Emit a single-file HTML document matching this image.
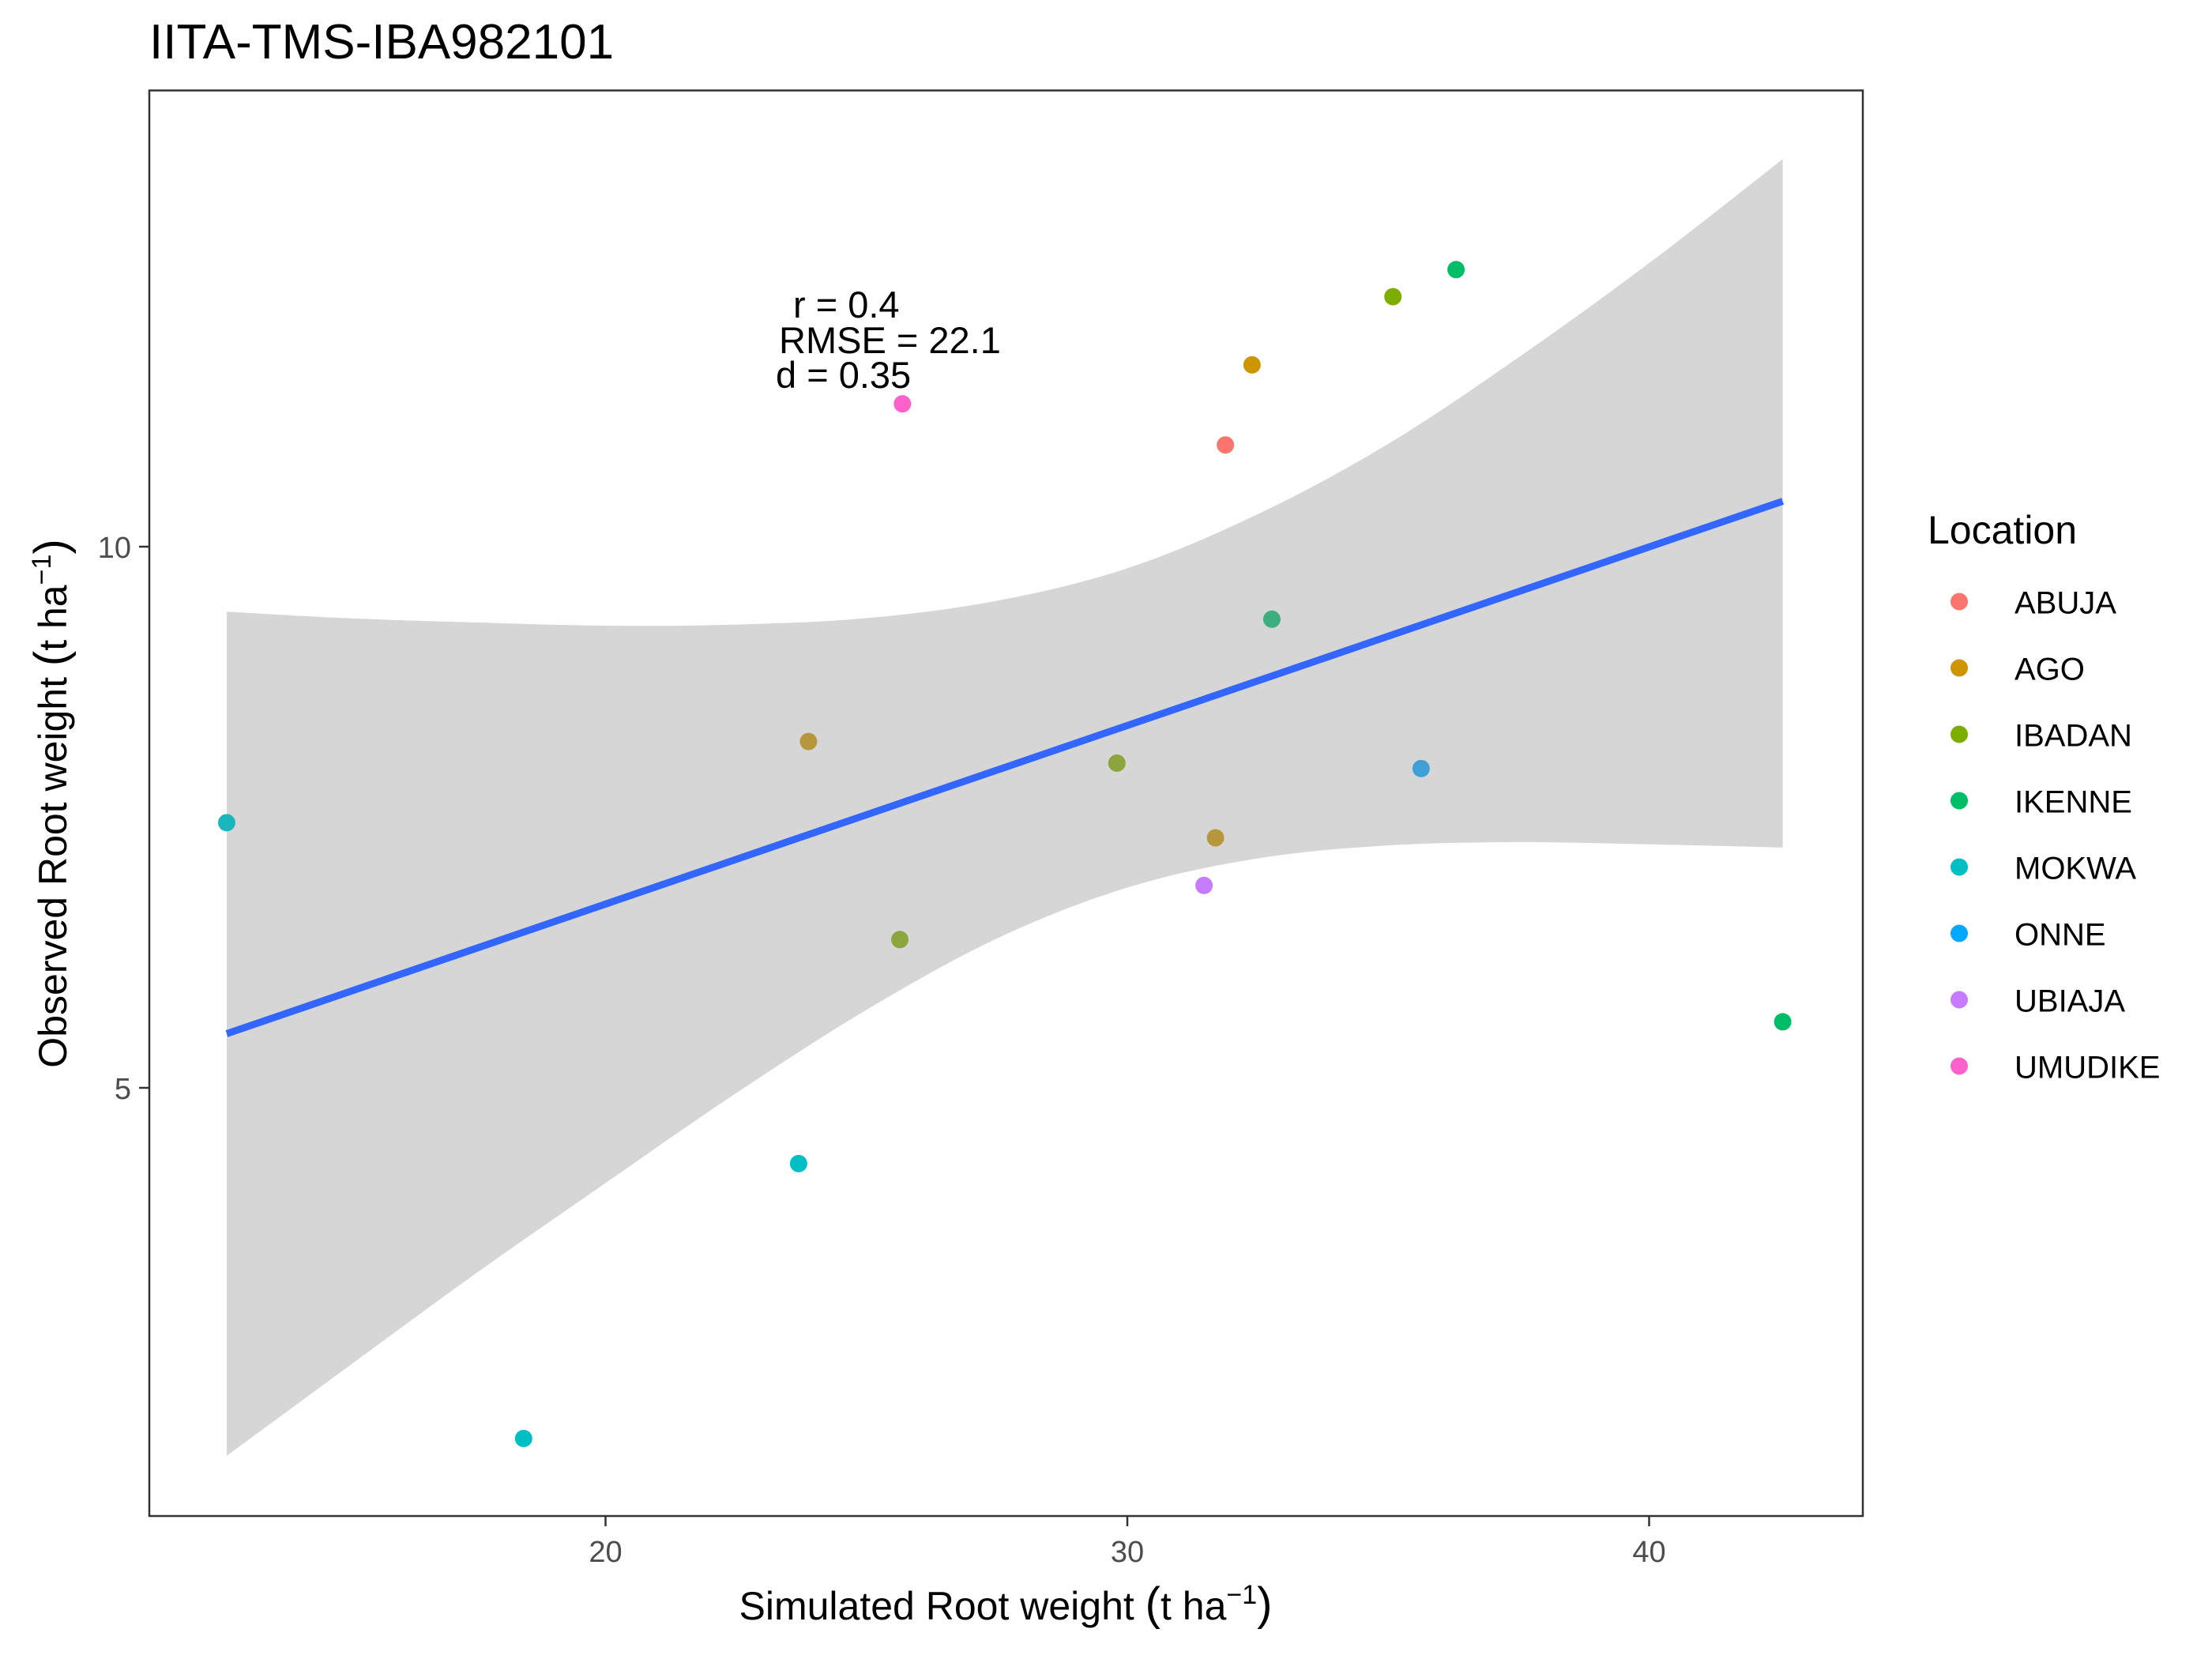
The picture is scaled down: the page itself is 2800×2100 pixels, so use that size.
<!DOCTYPE html>
<html><head><meta charset="utf-8"><title>IITA-TMS-IBA982101</title>
<style>html,body{margin:0;padding:0;background:#fff}svg{display:block;font-family:"Liberation Sans",Arial,sans-serif}</style>
</head><body>
<svg id="chart" width="2800" height="2100" viewBox="0 0 2800 2100">
  <rect x="0" y="0" width="2800" height="2100" fill="#fff"/>
  <text x="189" y="74" font-size="62" fill="#000">IITA-TMS-IBA982101</text>
  <g id="ribbonG"></g>
  <g id="lineG"></g>
  <g id="pointsG"></g>
  <g id="annot" font-size="47" fill="#000">
    <text x="1004" y="402">r = 0.4</text>
    <text x="986" y="447">RMSE = 22.1</text>
    <text x="982" y="491">d = 0.35</text>
  </g>
  <rect x="189" y="114.5" width="2169" height="1804.5" fill="none" stroke="#333" stroke-width="2.5"/>
  <g id="xAxis"></g>
  <g id="yAxis"></g>
  <text x="1273" y="2050" font-size="50" text-anchor="middle" fill="#000">Simulated Root weight <tspan font-size="58">(</tspan>t ha<tspan dy="-20" font-size="34">−1</tspan><tspan dy="20" font-size="58">)</tspan></text>
  <text transform="translate(84,1017) rotate(-90)" font-size="50" text-anchor="middle" fill="#000">Observed Root weight <tspan font-size="58">(</tspan>t ha<tspan dy="-20" font-size="34">−1</tspan><tspan dy="20" font-size="58">)</tspan></text>
  <g id="legend">
    <text x="2440" y="688" font-size="50" fill="#000">Location</text>
  </g>
</svg>
<script>
const xVals = [12.74, 25.69, 23.89, 29.80, 25.64, 23.70, 18.43, 31.88, 32.39, 35.09, 36.30, 32.77, 35.63, 31.69, 31.47, 42.56];
const yVals = [7.45, 11.32, 8.20, 8.00, 6.37, 4.30, 1.76, 10.94, 11.68, 12.31, 12.56, 9.33, 7.95, 7.31, 6.87, 5.61];
const pointColors = ["#1ab6bd","#ff61cc","#b8963c","#8aa63c","#8aa63c","#00bfc4","#00bfc4","#f8766d","#cd9600","#7cae00","#00be67","#3dae7e","#3fa0d8","#b8963c","#c77cff","#00be67"];
const bandX = [12.74, 15, 17.5, 20, 22.5, 25, 27.5, 30, 32.5, 35, 37.5, 40, 42.56];
const bandUpper = [9.40, 9.34, 9.30, 9.27, 9.28, 9.34, 9.50, 9.80, 10.30, 10.95, 11.75, 12.62, 13.58];
const bandLower = [1.60, 2.40, 3.28, 4.12, 4.95, 5.72, 6.38, 6.85, 7.12, 7.24, 7.27, 7.25, 7.22];
const fitX = [12.74, 42.56];
const fitY = [5.50, 10.42];
const xTicks = [20, 30, 40];
const yTicks = [5, 10];
const legendLabels = ["ABUJA","AGO","IBADAN","IKENNE","MOKWA","ONNE","UBIAJA","UMUDIKE"];
const legendColors = ["#f8766d","#cd9600","#7cae00","#00be67","#00bfc4","#00a9ff","#c77cff","#ff61cc"];

const NS = "http://www.w3.org/2000/svg";
function sx(v){ return 766.5 + (v - 20) * 66.05; }
function sy(v){ return 692 - (v - 10) * 137; }
function mk(tag, attrs, parent){ const e = document.createElementNS(NS, tag); for (const k in attrs) e.setAttribute(k, attrs[k]); parent.appendChild(e); return e; }
function smooth(pts){
  let s = "";
  for (let i = 0; i < pts.length - 1; i++){
    const p0 = pts[Math.max(i-1,0)], p1 = pts[i], p2 = pts[i+1], p3 = pts[Math.min(i+2,pts.length-1)];
    const c1 = [p1[0] + (p2[0]-p0[0])/6, p1[1] + (p2[1]-p0[1])/6];
    const c2 = [p2[0] - (p3[0]-p1[0])/6, p2[1] - (p3[1]-p1[1])/6];
    s += "C" + c1[0] + "," + c1[1] + " " + c2[0] + "," + c2[1] + " " + p2[0] + "," + p2[1];
  }
  return s;
}

// ribbon
const up = bandX.map((x,i)=>[sx(x), sy(bandUpper[i])]);
const lo = bandX.map((x,i)=>[sx(x), sy(bandLower[i])]).reverse();
let d = "M" + up[0][0] + "," + up[0][1] + smooth(up) + "L" + lo[0][0] + "," + lo[0][1] + smooth(lo) + "Z";
const rib = mk("path", {d: d, fill: "#d6d6d6"}, document.getElementById("ribbonG"));



// fit line
const ln = mk("line", {x1: sx(fitX[0]), y1: sy(fitY[0]), x2: sx(fitX[1]), y2: sy(fitY[1]), stroke: "#3366ff", "stroke-width": 9}, document.getElementById("lineG"));



// points
const pg = document.getElementById("pointsG");
xVals.forEach((x,i)=>{
  const c = mk("circle", {cx: sx(x), cy: sy(yVals[i]), r: 11, fill: pointColors[i]}, pg);
  
  
});

// x axis
const xg = document.getElementById("xAxis");
xTicks.forEach(t=>{
  const tk = mk("line", {x1: sx(t), x2: sx(t), y1: 1919, y2: 1932, stroke: "#333", "stroke-width": 2.5}, xg);
  
  
  const lb = mk("text", {x: sx(t), y: 1977, "font-size": 38, fill: "#4d4d4d", "text-anchor": "middle"}, xg);
  lb.textContent = t;
  
  
});
// y axis
const yg = document.getElementById("yAxis");
yTicks.forEach(t=>{
  const tk = mk("line", {x1: 176, x2: 189, y1: sy(t), y2: sy(t), stroke: "#333", "stroke-width": 2.5}, yg);
  
  
  const lb = mk("text", {x: 166, y: sy(t) + 14, "font-size": 38, fill: "#4d4d4d", "text-anchor": "end"}, yg);
  lb.textContent = t;
  
  
});
// legend
const lg = document.getElementById("legend");
legendLabels.forEach((l,i)=>{
  const y = 761.5 + i * 84;
  const c = mk("circle", {cx: 2480, cy: y, r: 11, fill: legendColors[i]}, lg);
  
  
  const t = mk("text", {x: 2550, y: y + 15, "font-size": 40, fill: "#000"}, lg);
  t.textContent = l;
  
  
});
</script>
</body></html>
